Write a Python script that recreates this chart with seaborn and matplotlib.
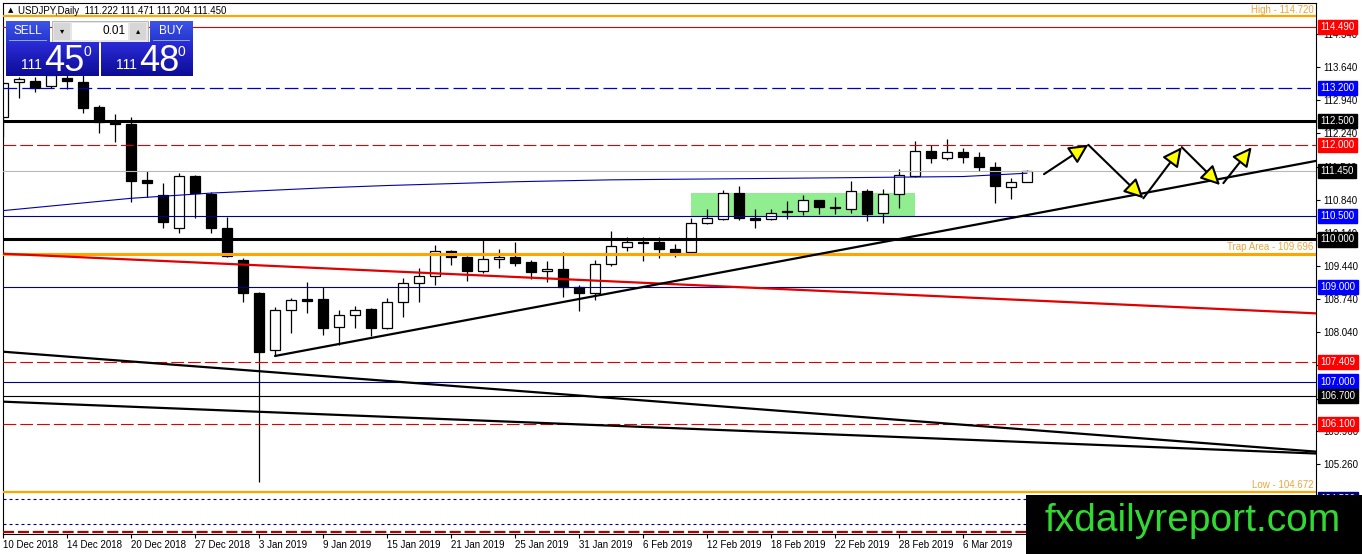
import numpy as np
import pandas as pd
import matplotlib
matplotlib.use('Agg')
import matplotlib.pyplot as plt
import matplotlib.transforms as mtransforms
from matplotlib.patches import Rectangle
from matplotlib.colors import to_rgb
import seaborn as sns

# USDJPY daily candles, 10 Dec 2018 .. 12 Mar 2019
opens = [112.59, 113.32, 113.35, 113.24, 113.42, 113.33, 112.80, 112.49, 112.44, 111.26,
         110.94, 110.24, 111.34, 110.96, 110.24, 109.57, 108.86, 107.67, 108.51, 108.74,
         108.74, 108.15, 108.40, 108.53, 108.14, 108.67, 109.08, 109.22, 109.76, 109.63,
         109.34, 109.58, 109.63, 109.53, 109.33, 109.38, 109.00, 108.86, 109.48, 109.85,
         109.95, 109.94, 109.79, 109.74, 110.34, 110.43, 110.98, 110.45, 110.43, 110.60,
         110.60, 110.83, 110.68, 110.64, 111.02, 110.55, 110.96, 111.35, 111.87, 111.72,
         111.84, 111.74, 111.54, 111.10, 111.222]
highs = [113.33, 113.43, 113.43, 113.55, 113.52, 113.47, 112.84, 112.65, 112.59, 111.45,
         111.19, 111.40, 111.36, 111.01, 110.48, 109.60, 108.90, 108.58, 108.76, 109.11,
         109.00, 108.51, 108.60, 108.56, 108.77, 109.18, 109.39, 109.88, 109.78, 109.65,
         109.99, 109.80, 109.95, 109.57, 109.55, 109.74, 109.04, 109.57, 110.17, 110.05,
         110.05, 110.06, 109.91, 110.46, 110.64, 111.05, 111.13, 110.64, 110.64, 110.82,
         110.94, 110.84, 110.89, 111.24, 111.07, 111.07, 111.48, 112.07, 112.00, 112.12,
         111.93, 111.84, 111.63, 111.29, 111.471]
lows = [112.17, 112.98, 113.12, 113.20, 113.18, 112.67, 112.25, 112.06, 110.79, 110.90,
        110.25, 110.14, 110.45, 110.13, 109.64, 108.69, 104.87, 107.53, 108.03, 108.44,
        107.98, 107.77, 108.14, 107.96, 108.12, 108.37, 108.67, 109.04, 109.46, 109.13,
        109.30, 109.39, 109.44, 109.16, 109.11, 108.79, 108.48, 108.72, 109.43, 109.76,
        109.55, 109.60, 109.64, 109.72, 110.32, 110.41, 110.41, 110.24, 110.41, 110.43,
        110.52, 110.54, 110.54, 110.57, 110.40, 110.34, 110.66, 111.31, 111.62, 111.68,
        111.61, 111.45, 110.77, 110.85, 111.204]
closes = [113.31, 113.38, 113.21, 113.47, 113.35, 112.78, 112.48, 112.43, 111.24, 111.20,
          110.36, 111.34, 110.98, 110.24, 109.65, 108.86, 107.63, 108.51, 108.72, 108.71,
          108.14, 108.40, 108.51, 108.14, 108.67, 109.08, 109.23, 109.76, 109.63, 109.34,
          109.58, 109.63, 109.51, 109.32, 109.38, 109.00, 108.86, 109.48, 109.86, 109.95,
          109.93, 109.79, 109.72, 110.34, 110.45, 110.98, 110.45, 110.42, 110.57, 110.58,
          110.83, 110.68, 110.66, 111.02, 110.54, 110.96, 111.36, 111.87, 111.72, 111.84,
          111.74, 111.54, 111.14, 111.21, 111.450]

date_ticks = [0, 4, 8, 12, 16, 20, 24, 28, 32, 36, 40, 44, 48, 52, 56, 60]
date_labels = ['10 Dec 2018', '14 Dec 2018', '20 Dec 2018', '27 Dec 2018', '3 Jan 2019',
               '9 Jan 2019', '15 Jan 2019', '21 Jan 2019', '25 Jan 2019', '31 Jan 2019',
               '6 Feb 2019', '12 Feb 2019', '18 Feb 2019', '22 Feb 2019', '28 Feb 2019',
               '6 Mar 2019']
price_ticks = [114.34, 113.64, 112.94, 112.24, 111.54, 110.84, 110.14, 109.44, 108.74,
               108.04, 107.34, 106.64, 105.96, 105.26]

# horizontal levels: price, kind
level_prices = [114.490, 113.200, 112.500, 112.000, 111.450, 110.500, 110.000, 109.000,
                107.409, 107.000, 106.700, 106.100, 104.520]
level_kinds = ['red', 'bluedash', 'blackthick', 'reddash', 'price', 'blue', 'blackthick',
               'blue', 'reddash', 'blue', 'black', 'reddash', 'navydot']
marker_names = ['High', 'Trap Area', 'Low']
marker_prices = [114.720, 109.696, 104.672]
extra_dotted = [103.99]
bottom_dashed = [103.82]

# moving average (bar index, value)
ma_idx = [0, 8, 13, 20, 24, 32, 38, 48, 60, 64]
ma_val = [110.61, 110.87, 110.98, 111.09, 111.14, 111.22, 111.26, 111.29, 111.33, 111.40]

# trend lines (x pair, y pair)
red_trend = ([0, 82.06], [109.70, 108.44])
up_trend = ([17, 82.06], [107.54, 111.66])
down_trend1 = ([0, 82.06], [107.63, 105.52])
down_trend2 = ([0, 82.06], [106.575, 105.48])

# range box and projected path
box_x = [43.0, 57.0]
box_y = [110.50, 110.98]
path_x = [65.06, 67.83, 71.27, 73.67, 76.06]
path_y = [111.38, 112.00, 110.87, 111.95, 111.15]
last_x = [76.27, 78.04]
last_y = [111.19, 111.95]

W, H = 1362, 554
sns.set_theme(style='white', rc={'axes.edgecolor': 'black', 'xtick.color': 'black',
                                 'ytick.color': 'black', 'text.color': 'black'})
plt.rcParams['font.family'] = ['Liberation Sans', 'DejaVu Sans']

fig = plt.figure(figsize=(W / 100, H / 100), dpi=100)
ax = fig.add_axes([3 / W, (H - 534) / H, 1313 / W, 531 / H])
ax.set_xlim(0, 82.06)
ax.set_ylim(103.78, 114.995)

df = pd.DataFrame({'o': opens, 'h': highs, 'l': lows, 'c': closes})
df['i'] = np.arange(len(df))
up = df.c >= df.o
body_lo = np.minimum(df.o, df.c)
body_h = np.maximum((df.c - df.o).abs(), 0.02)

# green range area
ax.add_patch(Rectangle((box_x[0], box_y[0]), box_x[1] - box_x[0], box_y[1] - box_y[0],
                       fc='#90ee90', ec='none', zorder=1))

ax.vlines(df.i, df.l, df.h, color='black', lw=0.9, zorder=2)
ax.bar(df.i, body_h, bottom=body_lo, width=0.64, color=np.where(up, 'white', 'black'),
       edgecolor='black', linewidth=0.9, zorder=2.2)

styles = {
    'red': dict(color='#e00000', lw=0.8, ls='-'),
    'bluedash': dict(color='#0000c0', lw=0.9, ls=(0, (11, 4))),
    'blackthick': dict(color='black', lw=2.2, ls='-'),
    'reddash': dict(color='#e00000', lw=0.8, ls=(0, (11.5, 3.6))),
    'price': dict(color='#b8b8b8', lw=0.8, ls='-'),
    'blue': dict(color='#00008b', lw=0.8, ls='-'),
    'black': dict(color='black', lw=0.8, ls='-'),
    'navydot': dict(color='#000080', lw=0.8, ls=(0, (2.7, 2.7))),
}
box_colors = {'red': '#ff0000', 'reddash': '#ff0000', 'bluedash': '#0000ff', 'blue': '#0000ff',
              'blackthick': 'black', 'black': 'black', 'price': 'black', 'navydot': '#000080'}

for p, k in zip(level_prices, level_kinds):
    ax.axhline(p, zorder=3, **styles[k])
for p in extra_dotted:
    ax.axhline(p, zorder=3, **styles['navydot'])
for p in bottom_dashed:
    ax.axhline(p, color='#b00000', lw=1.6, ls=(0, (5, 1.7)), zorder=3)

trans = mtransforms.blended_transform_factory(ax.transAxes, ax.transData)
orange = '#ffa500'
for name, p, lw in zip(marker_names, marker_prices, [1.6, 2.2, 1.6]):
    ax.axhline(p, color=orange, lw=lw, zorder=3)
    ax.text(0.998, p + 0.03, f'{name} - {p:.3f}', transform=trans, ha='right', va='bottom',
            fontsize=7, color='#eaa53c', zorder=4)

# moving average and trend lines
sns.lineplot(x=ma_idx, y=ma_val, ax=ax, color='#0000b0', lw=0.8, zorder=3)
sns.lineplot(x=red_trend[0], y=red_trend[1], ax=ax, color='#e00000', lw=1.6, zorder=3)
for t in (up_trend, down_trend1, down_trend2):
    sns.lineplot(x=t[0], y=t[1], ax=ax, color='black', lw=1.6, zorder=3.1)

arrow_kw = dict(arrowstyle='-|>,head_length=0.9,head_width=0.45', lw=1.5, ec='black',
                fc='#ffff00', mutation_scale=13, shrinkA=0, shrinkB=0)
for a in range(len(path_x) - 1):
    ax.annotate('', xy=(path_x[a + 1], path_y[a + 1]), xytext=(path_x[a], path_y[a]),
                arrowprops=arrow_kw, zorder=4)
ax.annotate('', xy=(last_x[1], last_y[1]), xytext=(last_x[0], last_y[0]),
            arrowprops=arrow_kw, zorder=4)

# axes styling
ax.yaxis.tick_right()
ax.set_yticks(price_ticks)
ax.set_yticklabels([f'{p:.3f}' for p in price_ticks])
ax.set_xticks(date_ticks)
ax.set_xticklabels(date_labels)
for lbl in ax.get_xticklabels():
    lbl.set_ha('left')
ax.tick_params(axis='y', length=3, width=0.8, pad=2, labelsize=7, right=True, left=False)
ax.tick_params(axis='x', length=3, width=0.8, pad=1.5, labelsize=7, bottom=True)
for s in ax.spines.values():
    s.set_color('black')
    s.set_linewidth(0.8)
ax.set_xlabel('')
ax.set_ylabel('')

# price boxes on the right scale
for p, k in zip(level_prices, level_kinds):
    ax.text(1.0035, p, f'{p:.3f}', transform=trans, ha='left', va='center', fontsize=7,
            color='white', clip_on=False, zorder=6,
            bbox=dict(boxstyle='square,pad=0.22', fc=box_colors[k], ec=box_colors[k]))


def fx(x):
    return x / W


def fy(y):
    return 1 - y / H


def fig_rect(x0, y0, x1, y1, **kw):
    fig.patches.append(Rectangle((fx(x0), fy(y1)), (x1 - x0) / W, (y1 - y0) / H,
                                 transform=fig.transFigure, **kw))


def grad_rect(x0, y0, x1, y1, top, bottom, steps=16):
    c0, c1 = np.array(to_rgb(top)), np.array(to_rgb(bottom))
    hs = (y1 - y0) / steps
    for s in range(steps):
        f = s / (steps - 1)
        fig_rect(x0, y0 + s * hs, x1, y0 + (s + 1) * hs + 0.3, fc=c0 + (c1 - c0) * f, ec='none')


# header
fig.text(fx(8), fy(10.5), '\u25b2', fontsize=5, va='center', ha='left', family='DejaVu Sans')
fig.text(fx(18), fy(10.5), 'USDJPY,Daily  111.222 111.471 111.204 111.450', fontsize=7,
         va='center', ha='left')

# one-click trading panel
grad_rect(6, 21, 50, 42, '#3c52e6', '#2636cc')
fig_rect(52, 21, 148, 42, fc='#e6e6e6', ec='#a0a0a0', lw=0.5)
fig_rect(72, 23, 128, 40, fc='white', ec='none')
fig_rect(54, 23, 70, 40, fc='#d6d6d6', ec='none')
fig_rect(130, 23, 146, 40, fc='#d6d6d6', ec='none')
grad_rect(150, 21, 193, 42, '#3c52e6', '#2636cc')
grad_rect(6, 42, 99, 76, '#2a2ad6', '#0c0c96')
grad_rect(101, 42, 193, 76, '#2a2ad6', '#0c0c96')
fig_rect(9, 40.5, 47, 41.2, fc='#8fa0ff', ec='none')
fig_rect(153, 40.5, 190, 41.2, fc='#8fa0ff', ec='none')
fig.text(fx(28), fy(31), 'SELL', color='white', fontsize=8.5, ha='center', va='center')
fig.text(fx(171.5), fy(31), 'BUY', color='white', fontsize=8.5, ha='center', va='center')
fig.text(fx(62), fy(31), '\u25be', fontsize=6, ha='center', va='center', family='DejaVu Sans')
fig.text(fx(138), fy(31), '\u25b4', fontsize=6, ha='center', va='center', family='DejaVu Sans')
fig.text(fx(126), fy(31), '0.01', fontsize=8.5, ha='right', va='center')
for x0, big in ((42, '45'), (137, '48')):
    fig.text(fx(x0), fy(69), '111', color='white', fontsize=10, ha='right', va='baseline')
    fig.text(fx(x0 + 2), fy(71), big, color='white', fontsize=26, ha='left', va='baseline')
    fig.text(fx(x0 + 41), fy(56), '0', color='white', fontsize=10, ha='left', va='baseline')

# watermark
fig_rect(1026, 495, 1362, 554, fc='black', ec='none')
fig.text(fx(1193), fy(531), 'fxdailyreport.com', color='#33d933', fontsize=28,
         ha='center', va='baseline')

fig.savefig('out.png', dpi=100)
